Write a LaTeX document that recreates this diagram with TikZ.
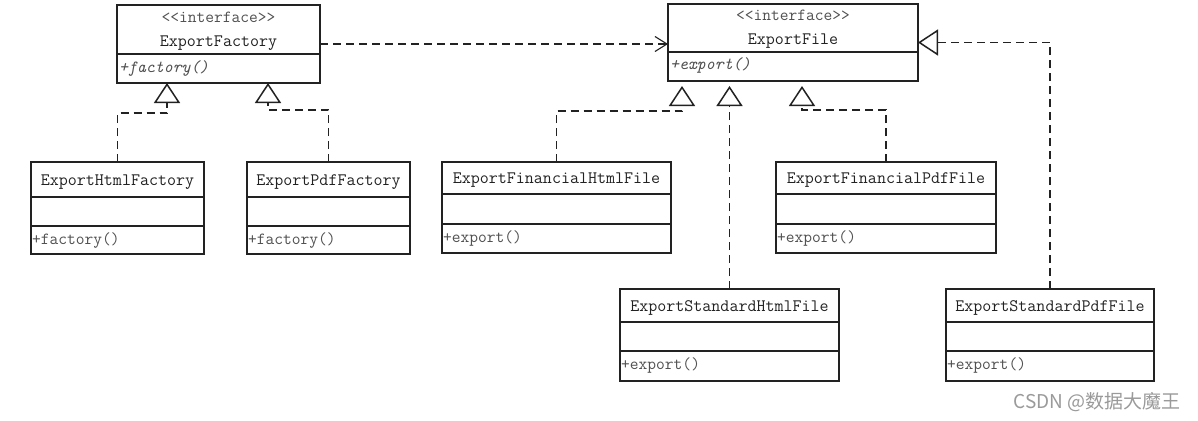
\documentclass[tikz,border=0pt]{standalone}
\usepackage{fontspec}
\newfontfamily\cjk{Noto Sans CJK SC}
\usetikzlibrary{arrows.meta}
\definecolor{ink}{HTML}{222222}
\definecolor{soft}{HTML}{505050}
\definecolor{wm}{HTML}{9A9A9A}
\begin{document}
\begin{tikzpicture}[x=1pt,y=-1pt,
  box/.style={draw=ink, line width=1.6pt, fill=white, inner sep=0pt, outer sep=0pt, anchor=north west},
  divider/.style={draw=ink, line width=1.6pt},
  cname/.style={font=\ttfamily\fontsize{17.5}{20}\selectfont, text=ink, inner sep=0pt, anchor=base},
  stereo/.style={font=\ttfamily\fontsize{17}{20}\selectfont, text=soft, inner sep=0pt, anchor=base},
  meth/.style={font=\ttfamily\fontsize{17}{20}\selectfont, text=soft, inner sep=0pt, anchor=base west},
  imeth/.style={font=\ttfamily\itshape\fontsize{17}{20}\selectfont, text=soft, inner sep=0pt, anchor=base west},
  real/.style={draw=ink, line width=1.3pt, dash pattern=on 8pt off 5pt, -{Triangle[open, length=20pt, width=26pt, line width=1.5pt]}},
  dep/.style={draw=ink, line width=1.3pt, dash pattern=on 8pt off 5pt, -{Straight Barb[length=12pt, width=15pt, line width=1.1pt]}},
]
\useasboundingbox[fill=white] (0,0) rectangle (1198,420);

% ---- interfaces ----
\node[box, minimum width=203pt, minimum height=78pt] (EF) at (117,5) {};
\draw[divider] (EF.west |- 0,54) -- (EF.east |- 0,54);
\node[stereo] (EFst) at (218.5,23) {<<interface>>};
\node[cname] (EFn) at (218.5,47) {ExportFactory};
\node[imeth] (EFm) at (119,72) {+factory()};

\node[box, minimum width=250pt, minimum height=77pt] (EFile) at (668,4) {};
\draw[divider] (EFile.west |- 0,52) -- (EFile.east |- 0,52);
\node[stereo] (EFilest) at (793,21) {<<interface>>};
\node[cname] (EFilen) at (793,45) {ExportFile};
\node[imeth] (EFilem) at (670,69) {+export()};

% ---- factories ----
\node[box, minimum width=173pt, minimum height=92pt] (EHF) at (31,162) {};
\draw[divider] (EHF.west |- 0,197) -- (EHF.east |- 0,197);
\draw[divider] (EHF.west |- 0,226) -- (EHF.east |- 0,226);
\node[cname] (EHFn) at (117.5,185) {ExportHtmlFactory};
\node[meth] (EHFm) at (32,244) {+factory()};

\node[box, minimum width=163pt, minimum height=92pt] (EPF) at (247,162) {};
\draw[divider] (EPF.west |- 0,197) -- (EPF.east |- 0,197);
\draw[divider] (EPF.west |- 0,226) -- (EPF.east |- 0,226);
\node[cname] (EPFn) at (328.5,185) {ExportPdfFactory};
\node[meth] (EPFm) at (248,244) {+factory()};

% ---- files ----
\node[box, minimum width=229pt, minimum height=91pt] (EFHF) at (442,162) {};
\draw[divider] (EFHF.west |- 0,194) -- (EFHF.east |- 0,194);
\draw[divider] (EFHF.west |- 0,224) -- (EFHF.east |- 0,224);
\node[cname] (EFHFn) at (556.5,183) {ExportFinancialHtmlFile};
\node[meth] (EFHFm) at (443,242) {+export()};

\node[box, minimum width=220pt, minimum height=91pt] (EFPF) at (776,162) {};
\draw[divider] (EFPF.west |- 0,194) -- (EFPF.east |- 0,194);
\draw[divider] (EFPF.west |- 0,224) -- (EFPF.east |- 0,224);
\node[cname] (EFPFn) at (886,183) {ExportFinancialPdfFile};
\node[meth] (EFPFm) at (777,242) {+export()};

\node[box, minimum width=219pt, minimum height=92pt] (ESHF) at (620,289) {};
\draw[divider] (ESHF.west |- 0,322) -- (ESHF.east |- 0,322);
\draw[divider] (ESHF.west |- 0,351) -- (ESHF.east |- 0,351);
\node[cname] (ESHFn) at (729.5,311) {ExportStandardHtmlFile};
\node[meth] (ESHFm) at (621,369) {+export()};

\node[box, minimum width=208pt, minimum height=92pt] (ESPF) at (946,289) {};
\draw[divider] (ESPF.west |- 0,322) -- (ESPF.east |- 0,322);
\draw[divider] (ESPF.west |- 0,351) -- (ESPF.east |- 0,351);
\node[cname] (ESPFn) at (1050,311) {ExportStandardPdfFile};
\node[meth] (ESPFm) at (947,369) {+export()};

% ---- connectors ----
\draw[dep] (EF.east) -- (EF.east -| EFile.west);
\draw[real] (EHF.north) -- (EHF.north |- 0,113) -| ([xshift=50pt]EF.south west);
\draw[real] (EPF.north) -- (EPF.north |- 0,110) -| ([xshift=151pt]EF.south west);
\draw[real, shorten >=5pt] (EFHF.north) -- (EFHF.north |- 0,111) -| ([xshift=14pt]EFile.south west);
\draw[real, shorten >=5pt] (ESHF.north) -- (ESHF.north |- EFile.south);
\draw[real, shorten >=5pt] (EFPF.north) -- (EFPF.north |- 0,110) -| ([xshift=134pt]EFile.south west);
\draw[real] (ESPF.north) |- (EFile.east);

% ---- watermark ----
\node[font=\cjk\fontsize{19}{22}\selectfont, text=wm, inner sep=0pt, anchor=base east] (wmk) at (1181,408) {CSDN @数据大魔王};
\end{tikzpicture}
\end{document}
